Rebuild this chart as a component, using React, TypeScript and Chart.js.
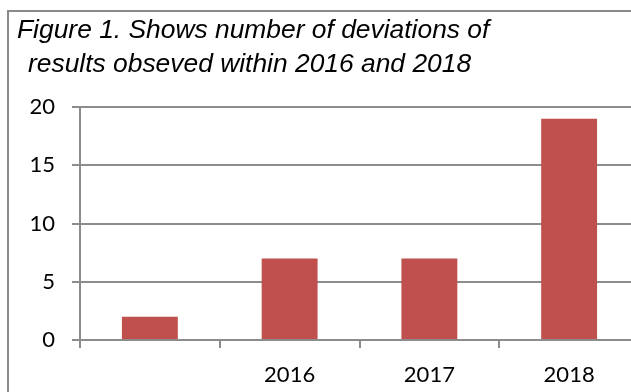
import React, { useEffect, useRef } from "react";
import { Chart, registerables } from "chart.js";

Chart.register(...registerables);

const categories: string[] = ["", "2016", "2017", "2018"];
const deviations: number[] = [2, 7, 7, 19];
const yTicks: number[] = [0, 5, 10, 15, 20];
const titleLines: string[] = [
  "Figure 1. Shows number of deviations of",
  "results obseved within 2016 and 2018",
];

const GRID = "#8c8c8c";

export default function App() {
  const ref = useRef<HTMLCanvasElement | null>(null);

  useEffect(() => {
    if (!ref.current) return;
    const titlePlugin = {
      id: "manualTitle",
      afterDraw(chart: any) {
        const ctx = chart.ctx;
        ctx.save();
        ctx.fillStyle = "#000";
        ctx.font = "italic 26.4px 'Liberation Sans', Arial, sans-serif";
        ctx.textBaseline = "middle";
        ctx.textAlign = "left";
        ctx.fillText(titleLines[0], 8, 19);
        ctx.fillText(titleLines[1], 19, 53);
        ctx.restore();
      },
    };
    const chart = new Chart(ref.current, {
      type: "bar",
      data: {
        labels: categories,
        datasets: [
          {
            data: deviations,
            backgroundColor: "#C0504D",
            borderWidth: 0,
            barPercentage: 0.4,
            categoryPercentage: 1.0,
          },
        ],
      },
      options: {
        animation: false,
        responsive: false,
        maintainAspectRatio: false,
        layout: { padding: { top: 95, right: 50, bottom: 0, left: 0 } },
        plugins: {
          legend: { display: false },
          title: { display: false },
          tooltip: { enabled: false },
        },
        scales: {
          y: {
            min: 0,
            max: 20,
            afterFit: (s: any) => {
              s.width = 71;
            },
            afterBuildTicks: (s: any) => {
              s.ticks = yTicks.map((v) => ({ value: v }));
            },
            ticks: {
              stepSize: 5,
              color: "#000",
              padding: 17,
              font: { family: "Lato", size: 22 },
            },
            grid: { color: GRID, lineWidth: 2, tickLength: 8 },
            border: { display: true, color: GRID, width: 2 },
          },
          x: {
            afterFit: (s: any) => {
              s.height = 52;
            },
            ticks: {
              color: "#000",
              padding: 14,
              font: { family: "Lato", size: 22 },
            },
            grid: {
              offset: true,
              drawOnChartArea: false,
              drawTicks: true,
              tickLength: 8,
              color: GRID,
              lineWidth: 2,
            },
            border: { display: true, color: GRID, width: 2 },
          },
        },
      },
      plugins: [titlePlugin],
    });
    return () => chart.destroy();
  }, []);

  return (
    <div
      style={{
        position: "absolute",
        left: 0,
        top: 0,
        width: 631,
        height: 392,
        overflow: "hidden",
        background: "#fff",
      }}
    >
      <div
        style={{
          position: "absolute",
          left: 7,
          top: 10,
          borderLeft: "2px solid #8a8a8a",
          borderTop: "2px solid #8a8a8a",
          width: 690,
          height: 400,
        }}
      >
        <canvas ref={ref} width={680} height={380} style={{ display: "block" }} />
      </div>
    </div>
  );
}
